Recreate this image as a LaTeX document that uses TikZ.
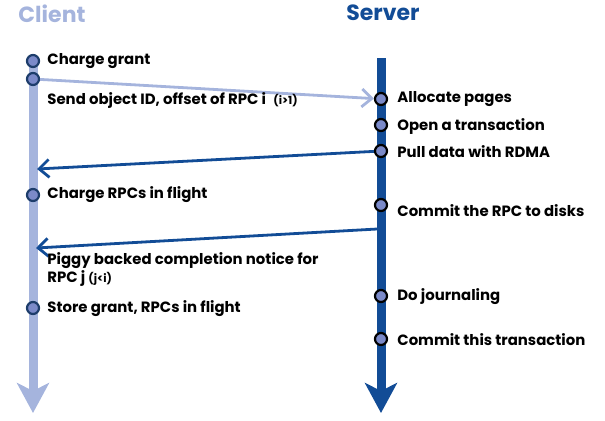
\documentclass[tikz,border=0pt]{standalone}
\usepackage{fontspec}
\setmainfont{Poppins}
\usetikzlibrary{arrows.meta}
\definecolor{clientblue}{HTML}{A5B4DD}
\definecolor{serverblue}{HTML}{124C96}
\definecolor{dotblue}{HTML}{7B8AC9}
\definecolor{ringblue}{HTML}{1D3D6B}
\def\lbl{\bfseries\fontsize{7.45}{9}\selectfont}
\def\sml{\bfseries\fontsize{5.6}{6}\selectfont}
\tikzset{
  event/.style={circle,draw=black,fill=dotblue,line width=1.1pt,minimum size=6pt,inner sep=0pt},
  cevent/.style={event,draw=ringblue},
  label/.style={anchor=west,inner sep=0pt,font=\lbl},
  title/.style={inner sep=0pt,font=\bfseries\fontsize{11}{13}\selectfont},
  lifeline/.style={line width=4.5pt,-{Stealth[length=15pt,width=16pt,inset=4pt]}},
  msg/.style={line width=1.4pt,-{Straight Barb[length=5pt,width=9pt,line width=1.4pt]}}
}
\begin{document}
\begin{tikzpicture}[x=0.5pt,y=-0.5pt]
  \useasboundingbox (0,0) rectangle (605,420);
  % titles
  \node[title,text=clientblue] (client) at (52,14) {Client};
  \node[title,text=serverblue] (server) at (383,13) {Server};
  % lifelines
  \coordinate (ctop) at (33,62);
  \coordinate (cend) at (33,413);
  \coordinate (stop) at (381,58);
  \coordinate (send) at (381,413);
  \draw[lifeline,clientblue] (ctop) -- (cend);
  \draw[lifeline,serverblue] (stop) -- (send);
  % events
  \node[cevent] (c1) at (33,61) {};
  \node[cevent] (c2) at (33,79) {};
  \node[cevent] (c3) at (33,195) {};
  \node[cevent] (c4) at (33,308) {};
  \node[event] (s1) at (381,99) {};
  \node[event] (s2) at (381,125) {};
  \node[event] (s3) at (381,151) {};
  \node[event] (s4) at (381,205) {};
  \node[event] (s5) at (381,296) {};
  \node[event] (s6) at (381,339) {};
  % messages
  \coordinate (pullend) at (37,169);
  \coordinate (notestart) at (377,229);
  \coordinate (noteend) at (36,248);
  \draw[msg,clientblue] (c2) -- (s1);
  \draw[msg,serverblue] (s3) -- (pullend);
  \draw[msg,serverblue] (notestart) -- (noteend);
  % client side
  \node[label] (t1) at (47,61) {Charge grant};
  \node[label] (t2) at (47,101) {Send object ID, offset of RPC i\enspace{\sml(i>1)}};
  \node[label] (t3) at (47,195) {Charge RPCs in flight};
  \node[label,align=left] (t4) at (47,270) {Piggy backed completion notice for\\RPC j {\sml(j<i)}};
  \node[label] (t5) at (47,309) {Store grant, RPCs in flight};
  % server side
  \node[label] (u1) at (397,99) {Allocate pages};
  \node[label] (u2) at (397,127) {Open a transaction};
  \node[label] (u3) at (397,152) {Pull data with RDMA};
  \node[label] (u4) at (397,211) {Commit the RPC to disks};
  \node[label] (u5) at (397,297) {Do journaling};
  \node[label] (u6) at (397,340) {Commit this transaction};
\end{tikzpicture}
\end{document}
